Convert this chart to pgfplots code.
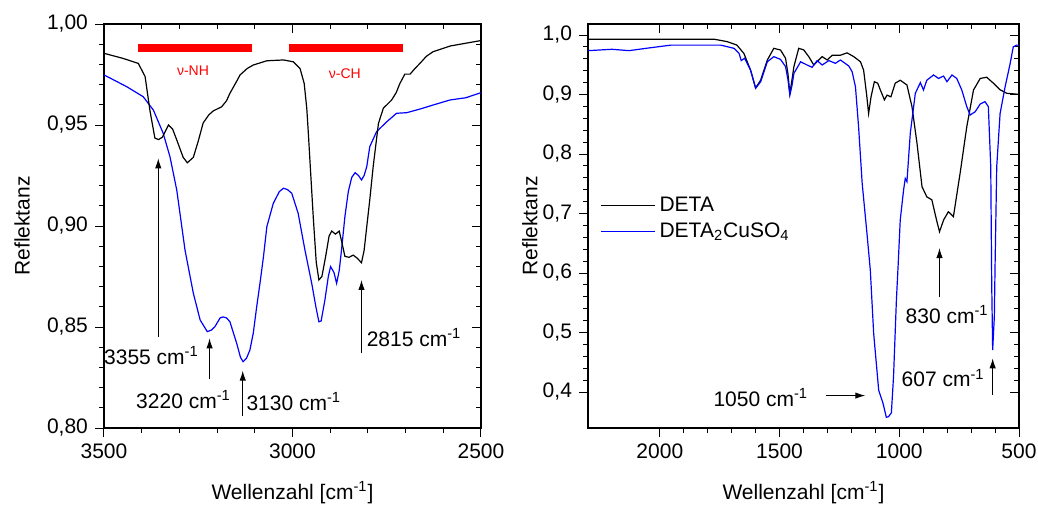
\documentclass[border=0pt]{standalone}
\usepackage{fontspec}
\setmainfont{Liberation Sans}
\usepackage{pgfplots}
\pgfplotsset{compat=1.18}
\usetikzlibrary{arrows.meta}

\newcommand{\fs}{\fontsize{10.5}{12}\selectfont}
\pgfplotsset{
  base/.style={
    scale only axis, height=202pt,
    x dir=reverse,
    anchor=south west,
    tick label style={font=\fs, /pgf/number format/assume math mode=true},
    label style={font=\fs},
    major tick length=4.5pt, minor tick length=2.5pt,
    every tick/.style={black, line width=0.5pt},
    axis line style={line width=0.6pt},
    scaled ticks=false,
    xticklabel style={/pgf/number format/1000 sep={}},
    minor x tick num=4, minor y tick num=4,
    clip=true,
  },
  outer/.style={xtick pos=left, ytick pos=left, tick align=outside},
  inner/.style={xtick pos=right, ytick pos=right, tick align=inside,
    xticklabels={}, yticklabels={}},
  leftax/.style={base, width=188.5pt, at={(0pt,0pt)},
    xmin=2500, xmax=3500, ymin=0.80, ymax=1.00,
    xtick={2500,3000,3500}, ytick={0.80,0.85,0.90,0.95,1.00},
    yticklabel style={/pgf/number format/.cd, fixed, fixed zerofill, precision=2, use comma}},
  rightax/.style={base, width=215.5pt, at={(242pt,0pt)},
    xmin=500, xmax=2300, ymin=0.3395, ymax=1.0185,
    xtick={500,1000,1500,2000}, ytick={0.4,0.5,0.6,0.7,0.8,0.9,1.0},
    yticklabel style={/pgf/number format/.cd, fixed, fixed zerofill, precision=1, use comma}},
}
\tikzset{ann/.style={-{Latex[length=5pt,width=3.2pt]}, line width=0.5pt, black}}

\begin{document}
\begin{tikzpicture}
\useasboundingbox (-52pt,-38.5pt) rectangle (467pt,214pt);

% ---------------- left panel ----------------
\begin{axis}[leftax, inner]
\end{axis}
\begin{axis}[leftax, outer,
  xlabel={Wellenzahl [cm\textsuperscript{-1}]}, ylabel={Reflektanz},
  xlabel style={at={(axis description cs:0.5,-0.161)}, anchor=center},
  ylabel style={at={(axis description cs:-0.2175,0.5)}, anchor=center}]
\addplot[red, line width=4.2pt] coordinates {(3410,0.988) (3108,0.988)};
\addplot[red, line width=4.2pt] coordinates {(3010,0.988) (2708,0.988)};
\node[red, font=\fontsize{7}{8}\selectfont] at (axis cs:3264,0.977) {ν-NH};
\node[red, font=\fontsize{7}{8}\selectfont] at (axis cs:2861,0.9755) {ν-CH};

\addplot[blue, line width=0.6pt] coordinates {
(3500,0.9748) (3440,0.969) (3396,0.964) (3369,0.9574) (3343,0.9459) (3325,0.9343) (3307,0.9178) (3285,0.888) (3263,0.8667) (3245,0.8535) (3226,0.8477) (3215,0.8485) (3206,0.8501) (3192,0.8545) (3184,0.855) (3175,0.8545) (3166,0.8526) (3148,0.8419) (3138,0.835) (3131,0.8328) (3122,0.8345) (3113,0.8386) (3104,0.847) (3095,0.860) (3086,0.872) (3077,0.8848) (3068,0.8997) (3051,0.9112) (3035,0.917) (3024,0.9187) (3013,0.918) (3002,0.9162) (2985,0.9063) (2967,0.8881) (2949,0.8716) (2938,0.860) (2930,0.8526) (2924,0.853) (2914,0.8634) (2905,0.875) (2899,0.8799) (2890,0.877) (2883,0.8716) (2876,0.878) (2870,0.8881) (2861,0.9046) (2852,0.917) (2843,0.924) (2834,0.9264) (2825,0.925) (2817,0.9228) (2810,0.925) (2803,0.9294) (2795,0.9393) (2777,0.9467) (2750,0.9516) (2724,0.9558) (2697,0.9561) (2660,0.958) (2627,0.9599) (2582,0.9624) (2540,0.9635) (2500,0.966)};
\addplot[black, line width=0.6pt] coordinates {
(3500,0.9855) (3450,0.9830) (3409,0.9805) (3391,0.974) (3378,0.957) (3365,0.9435) (3355,0.9428) (3345,0.944) (3329,0.950) (3318,0.948) (3307,0.9426) (3290,0.934) (3279,0.9313) (3263,0.934) (3250,0.942) (3237,0.951) (3222,0.955) (3210,0.957) (3188,0.959) (3175,0.962) (3166,0.9657) (3150,0.971) (3139,0.9748) (3120,0.978) (3104,0.9797) (3068,0.9818) (3024,0.9822) (2998,0.9813) (2980,0.978) (2969,0.9706) (2962,0.958) (2958,0.946) (2945,0.9046) (2937,0.882) (2930,0.8733) (2922,0.875) (2912,0.885) (2903,0.895) (2896,0.8975) (2886,0.896) (2876,0.8975) (2868,0.891) (2861,0.885) (2850,0.8845) (2839,0.8856) (2828,0.884) (2817,0.8818) (2810,0.888) (2803,0.8997) (2795,0.913) (2786,0.9294) (2772,0.9508) (2759,0.9583) (2737,0.9624) (2725,0.966) (2715,0.9706) (2702,0.9752) (2688,0.9752) (2675,0.978) (2662,0.9805) (2645,0.984) (2627,0.9863) (2582,0.9891) (2540,0.9905) (2500,0.9918)};

\draw[ann] (axis cs:3356,0.8452) -- (axis cs:3356,0.9335);
\draw[ann] (axis cs:3220,0.8241) -- (axis cs:3220,0.8444);
\draw[ann] (axis cs:3132,0.806) -- (axis cs:3132,0.8284);
\draw[ann] (axis cs:2817,0.837) -- (axis cs:2817,0.8733);
\node[font=\fs] at (axis cs:3374,0.836) {3355 cm\textsuperscript{-1}};
\node[font=\fs] at (axis cs:3289,0.8139) {3220 cm\textsuperscript{-1}};
\node[font=\fs, anchor=west, inner sep=0pt] at (axis cs:3123,0.813) {3130 cm\textsuperscript{-1}};
\node[font=\fs, anchor=west, inner sep=0pt] at (axis cs:2804,0.845) {2815 cm\textsuperscript{-1}};
\end{axis}

% ---------------- right panel ----------------
\begin{axis}[rightax, inner]
\end{axis}
\begin{axis}[rightax, outer,
  xlabel={Wellenzahl [cm\textsuperscript{-1}]}, ylabel={Reflektanz},
  xlabel style={at={(axis description cs:0.5,-0.161)}, anchor=center},
  ylabel style={at={(axis description cs:-0.1346,0.5)}, anchor=center},
  legend style={at={(axis cs:2250,0.735)}, anchor=north west, draw=none, fill=none,
    font=\fs, row sep=0pt, inner sep=0pt,
    /tikz/every even column/.append style={column sep=0pt}},
  legend cell align=left,
  legend image code/.code={\draw[#1] (0pt,0pt) -- (27pt,0pt);}]
\addplot[black, line width=0.6pt] coordinates {
(2300,0.9927) (2000,0.993) (1774,0.993) (1718,0.9888) (1678,0.983) (1649,0.969) (1621,0.941) (1600,0.911) (1579,0.924) (1551,0.958) (1524,0.9776) (1496,0.9748) (1475,0.961) (1465,0.935) (1457,0.902) (1448,0.925) (1440,0.947) (1420,0.9776) (1399,0.975) (1378,0.9636) (1357,0.9496) (1336,0.958) (1322,0.9636) (1301,0.958) (1280,0.966) (1246,0.966) (1218,0.970) (1190,0.9636) (1162,0.955) (1149,0.941) (1137,0.902) (1128,0.868) (1118,0.896) (1104,0.9215) (1090,0.919) (1079,0.9076) (1062,0.891) (1051,0.899) (1035,0.896) (1017,0.919) (996,0.924) (968,0.916) (947,0.8795) (926,0.818) (905,0.745) (885,0.728) (864,0.723) (845,0.69) (832,0.6694) (815,0.689) (795,0.703) (774,0.6946) (746,0.7676) (718,0.846) (690,0.9076) (662,0.927) (635,0.929) (607,0.919) (579,0.908) (551,0.902) (500,0.9003)};
\addlegendentry{DETA}
\addplot[blue, line width=0.6pt] coordinates {
(2300,0.9737) (2200,0.976) (2129,0.9737) (2050,0.978) (1954,0.983) (1746,0.983) (1690,0.9776) (1669,0.969) (1660,0.957) (1646,0.961) (1621,0.941) (1600,0.9104) (1579,0.9215) (1551,0.955) (1524,0.9636) (1496,0.959) (1475,0.947) (1465,0.925) (1457,0.899) (1448,0.915) (1440,0.9356) (1412,0.955) (1385,0.9496) (1364,0.9457) (1343,0.957) (1322,0.9496) (1294,0.957) (1267,0.9524) (1246,0.958) (1211,0.948) (1197,0.9384) (1183,0.913) (1170,0.846) (1155,0.751) (1135,0.6667) (1121,0.605) (1107,0.4987) (1086,0.403) (1068,0.381) (1054,0.3575) (1045,0.3585) (1033,0.365) (1024,0.4257) (1012,0.5546) (1005,0.611) (996,0.689) (982,0.7395) (975,0.759) (968,0.7535) (954,0.835) (933,0.902) (912,0.92) (899,0.9076) (885,0.924) (857,0.9328) (836,0.927) (815,0.931) (801,0.9215) (780,0.9328) (760,0.927) (739,0.9076) (718,0.8795) (704,0.8655) (683,0.871) (662,0.884) (642,0.888) (628,0.8795) (618,0.7787) (614,0.5827) (610,0.4706) (603,0.5266) (600,0.611) (593,0.779) (579,0.868) (558,0.913) (537,0.952) (524,0.980) (510,0.983) (500,0.983)};
\addlegendentry{DETA\textsubscript{2}CuSO\textsubscript{4}}

\draw[ann] (axis cs:832,0.56) -- (axis cs:832,0.642);
\draw[ann] (axis cs:1304,0.394) -- (axis cs:1142,0.394);
\draw[ann] (axis cs:610,0.395) -- (axis cs:610,0.4566);
\node[font=\fs] at (axis cs:800,0.5294) {830 cm\textsuperscript{-1}};
\node[font=\fs, anchor=east, inner sep=0pt] at (axis cs:1379,0.39) {1050 cm\textsuperscript{-1}};
\node[font=\fs, anchor=east, inner sep=0pt] at (axis cs:642,0.4235) {607 cm\textsuperscript{-1}};
\end{axis}
\end{tikzpicture}
\end{document}
